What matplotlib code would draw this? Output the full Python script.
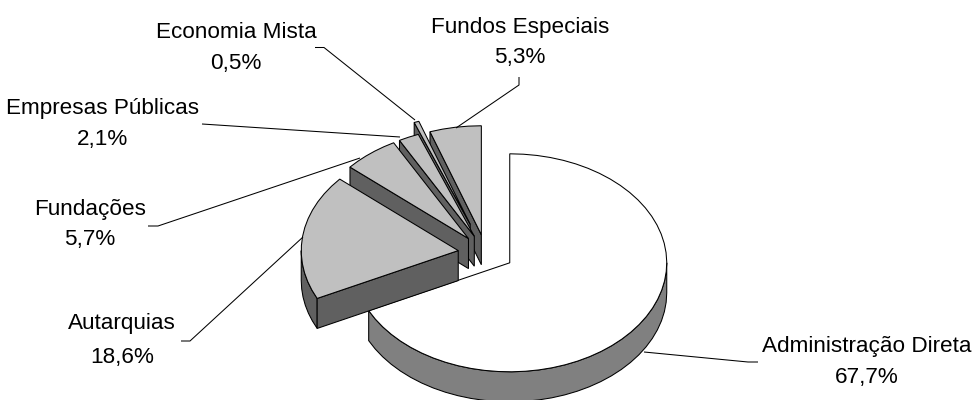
import numpy as np
import matplotlib
matplotlib.use("Agg")
import matplotlib.pyplot as plt
from matplotlib.patches import Polygon

plt.rcParams['font.family'] = ['Liberation Sans', 'DejaVu Sans']

categories = ["Administração Direta", "Autarquias", "Fundações",
              "Empresas Públicas", "Economia Mista", "Fundos Especiais"]
values = [67.7, 18.6, 5.7, 2.1, 0.5, 5.3]
value_labels = ["67,7%", "18,6%", "5,7%", "2,1%", "0,5%", "5,3%"]
explode = [1.0, 1.0, 1.0, 1.0, 1.65, 1.0]
top_colors = ["#FFFFFF", "#C0C0C0", "#C0C0C0", "#C0C0C0", "#C0C0C0", "#C0C0C0"]
wall_colors = ["#808080", "#606060", "#606060", "#606060", "#606060", "#606060"]
draw_order = [0, 5, 4, 3, 2, 1]
name_pos = [(866.5, 346.5), (122, 324), (90, 209.5), (103, 108.5), (236, 33), (520, 27)]
value_pos = [(867, 377), (122, 357), (90, 240), (103, 140), (236, 64), (520, 58)]
leaders = [
    [(758, 362), (748, 362), (644, 352)],
    [(181, 341), (190, 341), (303, 237)],
    [(148, 226), (158, 226), (360, 158)],
    [(202, 124), (400, 137)],
    [(315, 47.5), (324, 47.5), (415, 120)],
    [(519, 77), (519, 85), (456, 128)],
]

RX, RY, DEPTH = 157.0, 109.0, 30.0
EX, EY = 28.0, 18.5
CX, CY = 486.0, 253.0
STEP = 5.0

fig = plt.figure(figsize=(9.75, 4.0), dpi=100)
ax = fig.add_axes([0, 0, 1, 1])
ax.set_xlim(0, 975)
ax.set_ylim(400, 0)
ax.axis("off")

vals = np.array(values)
edges = np.concatenate([[0], np.cumsum(vals)]) / vals.sum() * 360.0


def pt(theta_deg, cx, cy):
    t = np.radians(theta_deg)
    return np.column_stack([cx + RX * np.sin(t), cy - RY * np.cos(t)])


def shift(arr):
    return arr + np.array([0, DEPTH])


LW = 0.75
for i in draw_order:
    a, b = edges[i], edges[i + 1]
    m = np.radians((a + b) / 2)
    ax_c = CX + EX * explode[i] * np.sin(m)
    ay_c = CY - EY * explode[i] * np.cos(m)
    apex = np.array([[ax_c, ay_c]])
    n = max(2, int((b - a) / STEP) + 2)
    rim = pt(np.linspace(a, b, n), ax_c, ay_c)

    lo, hi = max(a, 90.0), min(b, 270.0)
    if hi > lo:
        tw = np.linspace(lo, hi, max(2, int((hi - lo) / STEP) + 2))
        w = pt(tw, ax_c, ay_c)
        ax.add_patch(Polygon(np.vstack([w, shift(w)[::-1]]), closed=True,
                             facecolor=wall_colors[i], edgecolor="black", lw=LW))
    for ang, visible in ((a, np.sin(np.radians(a)) < -1e-6), (b, np.sin(np.radians(b)) > 1e-6)):
        if visible:
            o = pt([ang], ax_c, ay_c)
            ax.add_patch(Polygon(np.vstack([apex, o, shift(o), shift(apex)]), closed=True,
                                 facecolor=wall_colors[i], edgecolor="black", lw=LW))
    ax.add_patch(Polygon(np.vstack([apex, rim]), closed=True,
                         facecolor=top_colors[i], edgecolor="black", lw=LW))

for i in range(len(categories)):
    xs, ys = zip(*leaders[i])
    ax.plot(xs, ys, color="black", lw=0.75, solid_capstyle="butt", zorder=5)
    ax.text(*name_pos[i], categories[i], ha="center", va="center", fontsize=16.2,
            color="black", zorder=6)
    ax.text(*value_pos[i], value_labels[i], ha="center", va="center", fontsize=16.2,
            color="black", zorder=6)

fig.savefig("out.png", dpi=100)
